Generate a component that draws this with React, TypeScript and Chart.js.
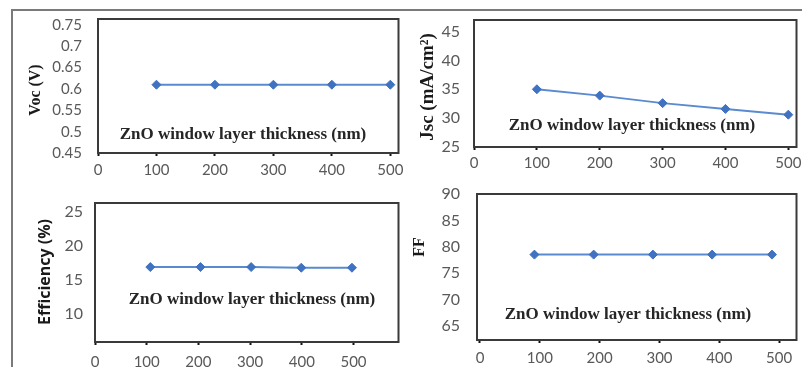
import React, { useEffect, useRef } from "react";
import { Chart, registerables } from "chart.js";

Chart.register(...registerables);

// ---------------- data ----------------
const xAxisLabel = "ZnO window layer thickness (nm)";
const xTickValues = [0, 100, 200, 300, 400, 500];

const vocThickness = [100, 200, 300, 400, 500];
const vocValues = [0.61, 0.61, 0.61, 0.61, 0.61];
const vocTicks = [0.45, 0.5, 0.55, 0.6, 0.65, 0.7, 0.75];

const jscThickness = [100, 200, 300, 400, 500];
const jscValues = [35.0, 33.9, 32.6, 31.6, 30.6];
const jscTicks = [25, 30, 35, 40, 45];

const effThickness = [107, 204, 302, 399, 497];
const effValues = [16.9, 16.9, 16.9, 16.8, 16.8];
const effTicks = [10, 15, 20, 25];

const ffThickness = [91, 190, 289, 388, 488];
const ffValues = [78.5, 78.5, 78.5, 78.5, 78.5];
const ffTicks = [65, 70, 75, 80, 85, 90];

// ---------------- layout / style ----------------
type Rect = { x: number; y: number; w: number; h: number };
type Area = { l: number; t: number; r: number; b: number };

interface PanelCfg {
  canvas: Rect;
  area: Area;
  xs: number[];
  ys: number[];
  xMin: number;
  xMax: number;
  yMin: number;
  yMax: number;
  yTicks: number[];
  yTitle: { text: string; x: number; y: number; font: string };
  inner: { x: number; y: number };
  xPad: number;
  yPad: number;
  xFont: number;
  yFont: number;
}

const panels: PanelCfg[] = [
  {
    canvas: { x: 14, y: 12, w: 390, h: 173 },
    area: { l: 98, t: 19, r: 399, b: 153 },
    xs: vocThickness,
    ys: vocValues,
    xMin: 0,
    xMax: 514,
    yMin: 0.45,
    yMax: 0.764,
    yTicks: vocTicks,
    yTitle: { text: "Voc (V)", x: 36, y: 90, font: 'bold 16px "Liberation Serif"' },
    inner: { x: 243, y: 135 },
    xPad: 5,
    yPad: 16,
    xFont: 15,
    yFont: 15,
  },
  {
    canvas: { x: 404, y: 12, w: 398, h: 173 },
    area: { l: 474, t: 20, r: 801, b: 147 },
    xs: jscThickness,
    ys: jscValues,
    xMin: 0,
    xMax: 513,
    yMin: 25,
    yMax: 47,
    yTicks: jscTicks,
    yTitle: { text: "Jsc (mA/cm²)", x: 428, y: 87, font: 'bold 19px "Liberation Serif"' },
    inner: { x: 632, y: 126 },
    xPad: 4,
    yPad: 14,
    xFont: 15,
    yFont: 16,
  },
  {
    canvas: { x: 14, y: 185, w: 390, h: 182 },
    area: { l: 95, t: 203, r: 399, b: 342 },
    xs: effThickness,
    ys: effValues,
    xMin: 0,
    xMax: 587,
    yMin: 5.9,
    yMax: 26.3,
    yTicks: effTicks,
    yTitle: { text: "Efficiency (%)", x: 45, y: 272, font: 'bold 16px "Open Sans"' },
    inner: { x: 252, y: 300 },
    xPad: 8,
    yPad: 12,
    xFont: 15,
    yFont: 16,
  },
  {
    canvas: { x: 404, y: 185, w: 398, h: 182 },
    area: { l: 477, t: 194, r: 800, b: 340 },
    xs: ffThickness,
    ys: ffValues,
    xMin: -5,
    xMax: 529,
    yMin: 62.3,
    yMax: 90,
    yTicks: ffTicks,
    yTitle: { text: "FF", x: 420, y: 247, font: 'bold 16px "Liberation Serif"' },
    inner: { x: 628, y: 315 },
    xPad: 6,
    yPad: 17,
    xFont: 15,
    yFont: 16,
  },
];

const LINE_COLOR = "#5a8bd0";
const MARKER_COLOR = "#3f72c0";
const LABEL_COLOR = "#595959";

const decorPlugin = {
  id: "panelDecor",
  beforeDatasetsDraw(chart: any, _args: any, opts: any) {
    const { ctx, chartArea: a } = chart;
    ctx.save();
    ctx.strokeStyle = "#3a3a3a";
    ctx.lineWidth = 2;
    ctx.strokeRect(a.left, a.top, a.right - a.left, a.bottom - a.top);
    // inner x-axis label
    ctx.fillStyle = "#262626";
    ctx.font = 'bold 17px "Liberation Serif"';
    ctx.textAlign = "center";
    ctx.textBaseline = "middle";
    ctx.fillText(opts.innerText, opts.innerX, opts.innerY);
    // y title
    ctx.translate(opts.titleX, opts.titleY);
    ctx.rotate(-Math.PI / 2);
    ctx.font = opts.titleFont;
    ctx.fillStyle = "#1a1a1a";
    ctx.fillText(opts.titleText, 0, 0);
    ctx.restore();
  },
};

function Panel({ cfg }: { cfg: PanelCfg }) {
  const ref = useRef<HTMLCanvasElement>(null);
  useEffect(() => {
    const c = cfg.canvas;
    const a = cfg.area;
    const chart = new Chart(ref.current as HTMLCanvasElement, {
      type: "line",
      data: {
        datasets: [
          {
            data: cfg.xs.map((x, i) => ({ x, y: cfg.ys[i] })),
            borderColor: LINE_COLOR,
            borderWidth: 2,
            pointStyle: "rectRot",
            pointRadius: 4.5,
            pointBackgroundColor: MARKER_COLOR,
            pointBorderColor: MARKER_COLOR,
            pointBorderWidth: 1,
            tension: 0,
          },
        ],
      },
      options: {
        responsive: false,
        animation: false,
        devicePixelRatio: 1,
        layout: {
          padding: { left: 0, top: a.t - c.y, right: c.x + c.w - a.r, bottom: 0 },
        },
        plugins: {
          legend: { display: false },
          tooltip: { enabled: false },
          panelDecor: {
            innerText: xAxisLabel,
            innerX: cfg.inner.x - c.x,
            innerY: cfg.inner.y - c.y,
            titleText: cfg.yTitle.text,
            titleX: cfg.yTitle.x - c.x,
            titleY: cfg.yTitle.y - c.y,
            titleFont: cfg.yTitle.font,
          },
        } as any,
        scales: {
          x: {
            type: "linear",
            min: cfg.xMin,
            max: cfg.xMax,
            afterBuildTicks: (s: any) => {
              s.ticks = xTickValues.map((v) => ({ value: v }));
            },
            afterFit: (s: any) => {
              s.height = c.y + c.h - a.b;
              s.paddingLeft = 0;
              s.paddingRight = 0;
            },
            grid: {
              display: true,
              drawOnChartArea: false,
              drawTicks: true,
              tickLength: 3,
              tickWidth: 2,
              tickColor: "#111",
            },
            border: { display: false },
            ticks: {
              autoSkip: false,
              maxRotation: 0,
              padding: cfg.xPad,
              color: LABEL_COLOR,
              font: { family: "Lato", size: cfg.xFont },
              callback: (v: any) => String(v),
            },
          },
          y: {
            type: "linear",
            min: cfg.yMin,
            max: cfg.yMax,
            afterBuildTicks: (s: any) => {
              s.ticks = cfg.yTicks.map((v) => ({ value: v }));
            },
            afterFit: (s: any) => {
              s.width = a.l - c.x;
              s.paddingTop = 0;
              s.paddingBottom = 0;
            },
            grid: { display: false, drawTicks: false },
            border: { display: false },
            ticks: {
              autoSkip: false,
              padding: cfg.yPad,
              color: LABEL_COLOR,
              font: { family: "Lato", size: cfg.yFont },
              callback: (v: any) => String(v),
            },
          },
        },
      } as any,
      plugins: [decorPlugin],
    });
    return () => chart.destroy();
  }, [cfg]);
  return (
    <canvas
      ref={ref}
      width={cfg.canvas.w}
      height={cfg.canvas.h}
      style={{
        position: "absolute",
        left: cfg.canvas.x,
        top: cfg.canvas.y,
        width: cfg.canvas.w,
        height: cfg.canvas.h,
      }}
    />
  );
}

export default function App() {
  return (
    <div
      style={{
        position: "absolute",
        left: 0,
        top: 0,
        width: 802,
        height: 367,
        background: "#fff",
        overflow: "hidden",
      }}
    >
      <div style={{ position: "absolute", left: 11, top: 9, width: 791, height: 2, background: "#7a7a7a" }} />
      <div style={{ position: "absolute", left: 11, top: 9, width: 2, height: 358, background: "#7a7a7a" }} />
      {panels.map((p, i) => (
        <Panel key={i} cfg={p} />
      ))}
    </div>
  );
}
